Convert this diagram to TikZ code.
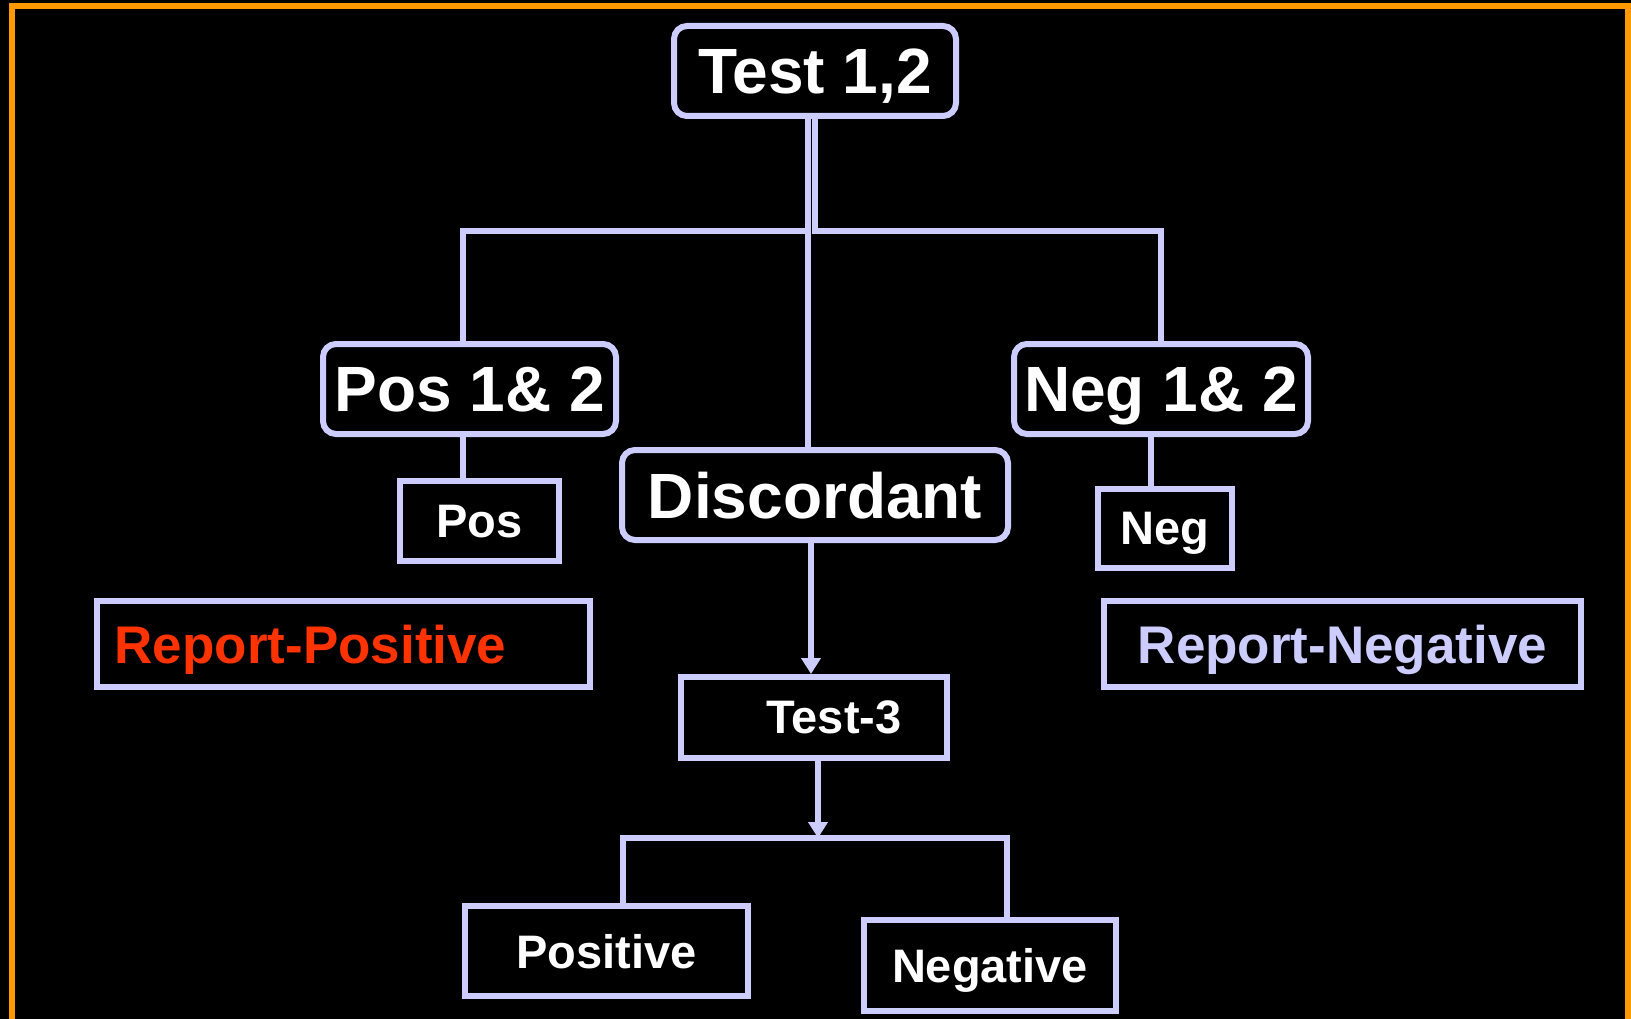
\documentclass[tikz,border=0pt]{standalone}
\usepackage{fontspec}
\setmainfont{Liberation Sans}
\usetikzlibrary{arrows.meta}
\definecolor{lav}{HTML}{CCCCFF}
\definecolor{frameorange}{HTML}{FF9900}
\definecolor{reportred}{HTML}{FF3300}
\tikzset{
  box/.style={draw=lav, line width=6pt, fill=black, text=white, inner sep=0pt, text depth=0pt},
  roundbox/.style={box, rounded corners=13pt},
  bigtext/.style={font=\fontsize{64}{70}\selectfont\bfseries},
  smalltext/.style={font=\fontsize{47}{52}\selectfont\bfseries},
  reporttext/.style={font=\fontsize{53}{58}\selectfont\bfseries},
  link/.style={draw=lav, line width=6pt},
  arrowlink/.style={link, -{Triangle[width=19pt,length=16pt]}}
}

\begin{document}
\begin{tikzpicture}[x=1pt, y=-1pt]
                  \useasboundingbox (0,0) rectangle (1631,1019);
                  \fill[black] (0,0) rectangle (1631,1019);
                  \draw[frameorange, line width=6pt] (12,1030) -- (12,6.5) -- (1628,6.5) -- (1628,1030);

                  % Boxes
                  \node[roundbox, bigtext, minimum width=282pt, minimum height=90pt] (Test12) at (815,71) {Test 1,2};
                  \node[roundbox, bigtext, minimum width=293pt, minimum height=90pt] (Pos12) at (469.5,389) {Pos 1\& 2};
                  \node[roundbox, bigtext, minimum width=294pt, minimum height=90pt] (Neg12) at (1161,389) {Neg 1\& 2};
                  \node[roundbox, bigtext, minimum width=386pt, minimum height=90pt] (Discordant) at (815,495) {Discordant};
                  \node[box, smalltext, minimum width=159pt, minimum height=80pt] (Pos) at (479.5,521) {Pos};
                  \node[box, smalltext, minimum width=134pt, minimum height=79pt] (Neg) at (1165,528.5) {Neg};
                  \node[box, reporttext, text=reportred, minimum width=493pt, minimum height=86pt] (RepPos) at (343.5,644) {Report-Positive\hspace*{66pt}};
                  \node[box, reporttext, text=lav, minimum width=477pt, minimum height=86pt] (RepNeg) at (1342.5,644) {Report-Negative};
                  \node[box, smalltext, minimum width=266pt, minimum height=81pt] (Test3) at (814,717.5) {\hspace*{40pt}Test-3};
                  \node[box, smalltext, minimum width=283pt, minimum height=90pt] (Positive) at (606.5,951) {Positive};
                  \node[box, smalltext, minimum width=252pt, minimum height=91pt] (Negative) at (990,965.5) {Negative};

                  % Branch points
                  \coordinate (fork) at (808,231);
                  \coordinate (fork2) at (818,838);

                  % Connectors
                  \draw[link] ([xshift=-7pt]Test12.south) |- (fork) -| ([xshift=-7pt]Pos12.north);
                  \draw[link] (Test12.south) |- (Neg12.north |- fork) -- (Neg12.north);
                  \draw[link] ([xshift=-7pt]Test12.south) -- ([xshift=-7pt]Discordant.north);
                  \draw[link] ([xshift=-7pt]Pos12.south) -- ([xshift=-7pt]Pos12.south |- Pos.north);
                  \draw[link] ([xshift=-10pt]Neg12.south) -- ([xshift=-10pt]Neg12.south |- Neg.north);
                  \draw[arrowlink] ([xshift=-4pt]Discordant.south) -- ([xshift=-4pt]Discordant.south |- Test3.north);
                  \draw[arrowlink] ([xshift=4pt]Test3.south) -- (fork2);
                  \draw[link] ([xshift=16pt]Positive.north) |- ([xshift=17pt]Negative.north |- fork2) -- ([xshift=17pt]Negative.north);
              \end{tikzpicture}
\end{document}
